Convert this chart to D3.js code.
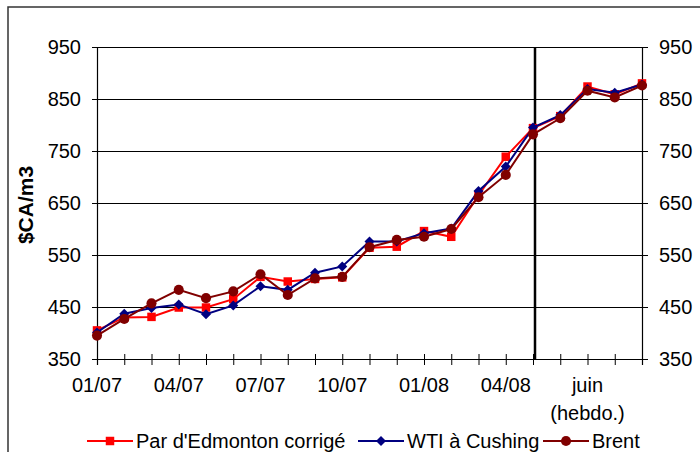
<!DOCTYPE html>
<html lang="fr">
<head>
    <meta charset="UTF-8">
    <title>Prix du brut</title>
    <script src="https://cdnjs.cloudflare.com/ajax/libs/d3/7.8.5/d3.js"></script>
    <style>
        body { margin: 0; background: #fff; }
        svg { display: block; font-family: "Liberation Sans", Arial, sans-serif; }
    </style>
</head>
<body>
<svg width="700" height="452"></svg>

<script>
    // 01/07 .. 05/08 monthly, then weekly in June
    const points = d3.range(21);
    const edmonton = [405, 430, 431, 449, 449, 465, 508, 499, 504, 507, 564, 566, 596, 585, 665, 739, 794, 817, 874, 859, 880];
    const wti = [401, 437, 448, 455, 436, 453, 490, 483, 516, 528, 576, 576, 592, 601, 673, 720, 795, 819, 869, 862, 878];
    const brent = [395, 427, 457, 483, 467, 480, 513, 473, 505, 508, 565, 579, 585, 600, 661, 704, 782, 813, 866, 853, 876];
    const xLabels = [[0, "01/07"], [3, "04/07"], [6, "07/07"], [9, "10/07"], [12, "01/08"], [15, "04/08"]];
    const yTicks = [350, 450, 550, 650, 750, 850, 950];
    const weeklyStart = 16;

    const svg = d3.select("svg");
    const x = d3.scaleLinear().domain([0, 20]).range([97, 642]);
    const y = d3.scaleLinear().domain([350, 950]).range([359, 47]);

    // outer frame (cut off on the right and bottom)
    svg.append("rect")
        .attr("x", 8).attr("y", 7)
        .attr("width", 720).attr("height", 480)
        .attr("fill", "none").attr("stroke", "#333").attr("stroke-width", 1.5);

    // gridlines
    svg.append("g")
        .selectAll("line")
        .data(yTicks.slice(1))
        .enter()
        .append("line")
        .attr("x1", x(0)).attr("x2", x(20))
        .attr("y1", d => Math.round(y(d)) + 0.5).attr("y2", d => Math.round(y(d)) + 0.5)
        .attr("stroke", "#000").attr("stroke-width", 1.2);

    // left axis
    const left = svg.append("g").attr("transform", `translate(${x(0)},0)`)
        .call(d3.axisLeft(y).tickValues(yTicks).tickSize(5).tickPadding(11));
    // right axis
    const right = svg.append("g").attr("transform", `translate(${x(20)},0)`)
        .call(d3.axisRight(y).tickValues(yTicks).tickSize(6).tickPadding(11));
    // bottom axis, cross ticks
    const bottom = svg.append("g").attr("transform", `translate(0,${y(350)})`)
        .call(d3.axisBottom(x).tickValues(points).tickSize(6).tickFormat(""));
    bottom.selectAll(".tick line").attr("y1", -5);

    [left, right, bottom].forEach(g => {
        g.select(".domain").attr("stroke", "#000").attr("stroke-width", 1.2);
        g.selectAll(".tick line").attr("stroke", "#000");
        g.selectAll("text").attr("font-size", 20).attr("fill", "#000")
            .attr("font-family", "'Liberation Sans', Arial, sans-serif");
    });

    // month labels
    svg.append("g")
        .selectAll("text")
        .data(xLabels)
        .enter()
        .append("text")
        .attr("x", d => x(d[0]))
        .attr("y", 392)
        .attr("text-anchor", "middle")
        .attr("font-size", 20)
        .text(d => d[1]);
    svg.append("text").attr("x", x(18)).attr("y", 392)
        .attr("text-anchor", "middle").attr("font-size", 20).text("juin");
    svg.append("text").attr("x", x(18)).attr("y", 420)
        .attr("text-anchor", "middle").attr("font-size", 20).text("(hebdo.)");

    // y title
    svg.append("text")
        .attr("transform", "translate(33,205) rotate(-90)")
        .attr("text-anchor", "middle")
        .attr("font-size", 21)
        .attr("font-weight", "bold")
        .text("$CA/m3");

    // separator between monthly and weekly data
    svg.append("line")
        .attr("x1", x(weeklyStart) + 2).attr("x2", x(weeklyStart) + 2)
        .attr("y1", y(950)).attr("y2", y(350))
        .attr("stroke", "#000").attr("stroke-width", 2.5);

    const series = [
        { name: "Par d'Edmonton corrigé", values: edmonton, color: "#ff0000", shape: d3.symbolSquare, size: 72, rot: 0 },
        { name: "WTI à Cushing", values: wti, color: "#000080", shape: d3.symbolSquare, size: 50, rot: 45 },
        { name: "Brent", values: brent, color: "#800000", shape: d3.symbolCircle, size: 80, rot: 0 }
    ];

    const line = d3.line().x((d, i) => x(i)).y(d => y(d));

    series.forEach(s => {
        svg.append("path")
            .datum(s.values)
            .attr("d", line)
            .attr("fill", "none")
            .attr("stroke", s.color)
            .attr("stroke-width", 2);
        svg.append("g")
            .selectAll("path")
            .data(s.values)
            .enter()
            .append("path")
            .attr("transform", (d, i) => `translate(${x(i)},${y(d)}) rotate(${s.rot})`)
            .attr("d", d3.symbol().type(s.shape).size(s.size))
            .attr("fill", s.color);
    });

    // legend
    const legendPos = [87, 358, 543];
    const legend = svg.append("g")
        .selectAll("g")
        .data(series)
        .enter()
        .append("g")
        .attr("transform", (d, i) => `translate(${legendPos[i]},441)`);
    legend.append("line")
        .attr("x1", 0).attr("x2", 46)
        .attr("stroke", d => d.color).attr("stroke-width", 2);
    legend.append("path")
        .attr("transform", d => `translate(23,0) rotate(${d.rot})`)
        .attr("d", d => d3.symbol().type(d.shape).size(d.size)())
        .attr("fill", d => d.color);
    legend.append("text")
        .attr("x", 49).attr("y", 7)
        .attr("font-size", 20)
        .text(d => d.name);
</script>
</body>
</html>
